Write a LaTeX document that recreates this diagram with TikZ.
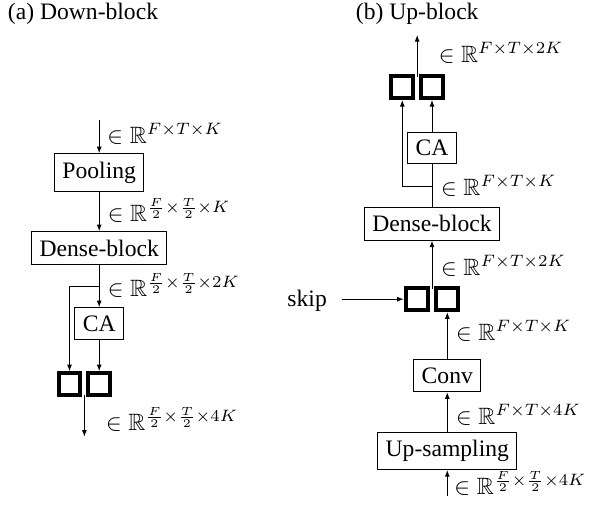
\documentclass[tikz,border=0pt]{standalone}
\usepackage{fontspec}
\setmainfont{Liberation Serif}
\usepackage{amssymb}
\usetikzlibrary{arrows.meta}
\begin{document}
\begin{tikzpicture}[x=0.4237pt,y=-0.4237pt,
  box/.style={draw,inner sep=3.4pt,font=\fontsize{10}{12}\selectfont},
  sq/.style={draw,line width=1.7pt,minimum size=9.3pt,inner sep=0pt},
  arr/.style={-{Latex[length=2.8pt,width=2.1pt]}},
  lab/.style={anchor=base west,inner sep=0pt},
  ttl/.style={anchor=base west,inner sep=0pt,font=\fontsize{10}{12}\selectfont}]
\useasboundingbox (0,0) rectangle (594,507);
% titles
\node[ttl] (tA) at (7.5,19) {(a) Down-block};
\node[ttl] (tB) at (355.5,19) {(b) Up-block};
% ---- (a) Down-block ----
\node[box] (pool) at (99.2,172.5) {Pooling};
\node[box] (denseA) at (99.2,248) {Dense-block};
\node[box] (caA) at (99.2,323.7) {CA};
\node[sq] (sqA1) at (69.5,384.2) {};
\node[sq] (sqA2) at (99.2,384.2) {};
\coordinate (inA) at (99.2,120);
\coordinate (brA) at (99.2,286);
\coordinate (midA) at (84.35,394.5);
\coordinate (outA) at (84.35,436.7);
\draw[arr] (inA) -- (pool.north);
\draw[arr] (pool.south) -- (denseA.north);
\draw[arr] (denseA.south) -- (caA.north);
\draw[arr] (brA) -| (sqA1.north);
\draw[arr] (caA.south) -- (sqA2.north);
\draw[arr] (midA) -- (outA);
\node[lab] (lA1) at (107,143) {$\in\mathbb{R}^{F\times T\times K}$};
\node[lab] (lA2) at (107.3,221.2) {$\in\mathbb{R}^{\frac{F}{2}\times\frac{T}{2}\times K}$};
\node[lab] (lA3) at (107.3,296.5) {$\in\mathbb{R}^{\frac{F}{2}\times\frac{T}{2}\times 2K}$};
\node[lab] (lA4) at (105.7,430) {$\in\mathbb{R}^{\frac{F}{2}\times\frac{T}{2}\times 4K}$};
% ---- (b) Up-block ----
\node[box] (up) at (447.3,450.8) {Up-sampling};
\node[box] (conv) at (447.3,375.8) {Conv};
\node[sq] (sqB1) at (416.7,299.2) {};
\node[sq] (sqB2) at (447.3,299.2) {};
\node[box] (denseB) at (432,223.8) {Dense-block};
\node[box] (caB) at (432,148) {CA};
\node[sq] (sqC1) at (402.3,87) {};
\node[sq] (sqC2) at (432,87) {};
\node[anchor=base west,inner sep=0pt,font=\fontsize{10}{12}\selectfont] (skip) at (287,306) {skip};
\coordinate (inB) at (447.3,495.7);
\coordinate (midB) at (432,288.5);
\coordinate (brB) at (432,186);
\coordinate (midC) at (417.15,76.5);
\coordinate (outC) at (417.15,35);
\coordinate (skipin) at (341.7,299.2);
\draw[arr] (inB) -- (up.south);
\draw[arr] (up.north) -- (conv.south);
\draw[arr] (conv.north) -- (sqB2.south);
\draw[arr] (skipin) -- (sqB1.west);
\draw[arr] (midB) -- (denseB.south);
\draw (denseB.north) -- (caB.south);
\draw[arr] (brB) -| (sqC1.south);
\draw[arr] (caB.north) -- (sqC2.south);
\draw[arr] (midC) -- (outC);
\node[lab] (lB1) at (438.3,62.2) {$\in\mathbb{R}^{F\times T\times 2K}$};
\node[lab] (lB2) at (440.7,195.5) {$\in\mathbb{R}^{F\times T\times K}$};
\node[lab] (lB3) at (440.7,275.5) {$\in\mathbb{R}^{F\times T\times 2K}$};
\node[lab] (lB4) at (455.7,340.5) {$\in\mathbb{R}^{F\times T\times K}$};
\node[lab] (lB5) at (455.7,424.5) {$\in\mathbb{R}^{F\times T\times 4K}$};
\node[lab] (lB6) at (454,494.5) {$\in\mathbb{R}^{\frac{F}{2}\times\frac{T}{2}\times 4K}$};
\end{tikzpicture}
\end{document}
